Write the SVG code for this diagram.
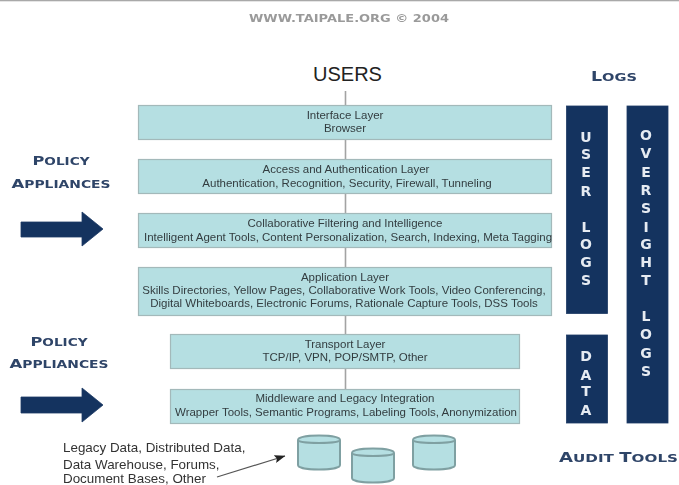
<svg xmlns="http://www.w3.org/2000/svg" width="679" height="485" viewBox="0 0 679 485">
<style>
text{font-family:"Liberation Sans",Arial,sans-serif;text-anchor:middle}
.b{fill:#b5dfe2;stroke:#a3b9ba;stroke-width:1.2}
.t{font-size:11.5px;fill:#333d40;filter:url(#s)}
.h{font-family:"DejaVu Sans",sans-serif;font-weight:bold;text-transform:uppercase;fill:#2f4468;filter:url(#s)}
.h tspan{font-size:.84em}
.c{fill:#14335f;stroke:#1d3a64;stroke-width:.8}
.v{font-family:"DejaVu Sans",sans-serif;font-size:14px;font-weight:bold;fill:#e6ebf2;filter:url(#s)}
.cy{fill:#b5dfe2;stroke:#7fa0a2;stroke-width:2}
.cyt{fill:none;stroke:#7fa0a2;stroke-width:2}
.l{font-size:13.400px;fill:#333;filter:url(#s)}
</style>
<defs>
<filter id="s" x="-5%" y="-20%" width="110%" height="140%"><feGaussianBlur stdDeviation="0.4"/></filter>
<marker id="ah" markerWidth="11" markerHeight="8" refX="10.500" refY="4" orient="auto" markerUnits="userSpaceOnUse"><path d="M0 0L11 4L0 8L2 4Z" fill="#222"/></marker>
<symbol id="cyl" overflow="visible"><path class="cy" d="M0 5C0 -1 42 -1 42 5V30C42 36 0 36 0 30Z"/><path class="cyt" d="M0 5C0 9 42 9 42 5"/></symbol>
</defs>
<rect width="679" height="485" fill="#fff"/>
<rect width="679" height="1.3" fill="#a9a9a9"/>
<g id="credit"><text x="349" y="22" font-size="11" font-weight="bold" fill="#9a9a9a" textLength="200" lengthAdjust="spacingAndGlyphs" style="font-family:'DejaVu Sans',sans-serif;text-transform:uppercase" filter="url(#s)">www.taipale.org © 2004</text></g>
<g id="connectors"><path d="M345.500 91V389" stroke="#a3a3a3" stroke-width="1.6" fill="none"/>
<path d="M217 477L285 456" stroke="#555" stroke-width="1.2" fill="none" marker-end="url(#ah)"/></g>
<g id="users"><text x="347.500" y="81" font-size="20" fill="#222">USERS</text></g>
<g id="logs-title"><text class="h" x="614" y="81" font-size="13.500" textLength="46" lengthAdjust="spacingAndGlyphs">L<tspan>ogs</tspan></text></g>
<g id="interface"><rect class="b" x="138.500" y="105.500" width="413" height="34"/><text class="t" x="345" y="119">Interface Layer</text><text class="t" x="345" y="132">Browser</text></g>
<g id="access"><rect class="b" x="138.500" y="159.500" width="413" height="34"/><text class="t" x="346" y="173">Access and Authentication Layer</text><text class="t" x="347" y="187">Authentication, Recognition, Security, Firewall, Tunneling</text></g>
<g id="collab"><rect class="b" x="138.500" y="213.500" width="413" height="34"/><text class="t" x="345" y="227">Collaborative Filtering and Intelligence</text><text class="t" x="348" y="241">Intelligent Agent Tools, Content Personalization, Search, Indexing, Meta Tagging</text></g>
<g id="application"><rect class="b" x="138.500" y="267.500" width="413" height="48"/><text class="t" x="345" y="281">Application Layer</text><text class="t" x="344" y="294">Skills Directories, Yellow Pages, Collaborative Work Tools, Video Conferencing,</text><text class="t" x="344" y="307">Digital Whiteboards, Electronic Forums, Rationale Capture Tools, DSS Tools</text></g>
<g id="transport"><rect class="b" x="170.500" y="334.500" width="349" height="34"/><text class="t" x="345" y="348">Transport Layer</text><text class="t" x="345" y="361">TCP/IP, VPN, POP/SMTP, Other</text></g>
<g id="middleware"><rect class="b" x="170.500" y="389.500" width="349" height="34"/><text class="t" x="345" y="402">Middleware and Legacy Integration</text><text class="t" x="346" y="416">Wrapper Tools, Semantic Programs, Labeling Tools, Anonymization</text></g>
<g id="policy1"><text class="h" x="61" y="165" font-size="13" textLength="57" lengthAdjust="spacingAndGlyphs">P<tspan>olicy</tspan></text><text class="h" x="61" y="188" font-size="13" textLength="99" lengthAdjust="spacingAndGlyphs">A<tspan>ppliances</tspan></text></g>
<path id="arrow1" class="c" d="M21 222H82V212L103 229L82 246V237H21Z"/>
<g id="policy2"><text class="h" x="59" y="346" font-size="13" textLength="57" lengthAdjust="spacingAndGlyphs">P<tspan>olicy</tspan></text><text class="h" x="59" y="368" font-size="13" textLength="99" lengthAdjust="spacingAndGlyphs">A<tspan>ppliances</tspan></text></g>
<path id="arrow2" class="c" d="M21 397H82V388L103 405L82 422V413H21Z"/>
<g id="user-logs"><rect class="c" x="566.500" y="106" width="41" height="207.500"/><text class="v" x="586" y="142">U</text><text class="v" x="586" y="159">S</text><text class="v" x="586" y="177">E</text><text class="v" x="586" y="196">R</text><text class="v" x="586" y="232">L</text><text class="v" x="586" y="249">O</text><text class="v" x="586" y="267">G</text><text class="v" x="586" y="285">S</text></g>
<g id="data"><rect class="c" x="566.500" y="335" width="41" height="88"/><text class="v" x="586" y="361">D</text><text class="v" x="586" y="380">A</text><text class="v" x="586" y="396">T</text><text class="v" x="586" y="415">A</text></g>
<g id="oversight"><rect class="c" x="627" y="106" width="41" height="317"/><text class="v" x="646" y="140">O</text><text class="v" x="646" y="158">V</text><text class="v" x="646" y="177">E</text><text class="v" x="646" y="195">R</text><text class="v" x="646" y="213">S</text><text class="v" x="646" y="232">I</text><text class="v" x="646" y="249">G</text><text class="v" x="646" y="267">H</text><text class="v" x="646" y="285">T</text><text class="v" x="646" y="321">L</text><text class="v" x="646" y="339">O</text><text class="v" x="646" y="358">G</text><text class="v" x="646" y="376">S</text></g>
<g id="audit"><text class="h" x="618.500" y="462" font-size="13.500" textLength="119" lengthAdjust="spacingAndGlyphs">A<tspan>udit </tspan>T<tspan>ools</tspan></text></g>
<g id="legacy"><text class="l" x="63" y="452" style="text-anchor:start">Legacy Data, Distributed Data,</text><text class="l" x="63" y="469" style="text-anchor:start">Data Warehouse, Forums,</text><text class="l" x="63" y="483" style="text-anchor:start">Document Bases, Other</text></g>
<use id="db1" href="#cyl" x="298" y="435"/>
<use id="db2" href="#cyl" x="352" y="448"/>
<use id="db3" href="#cyl" x="413" y="435"/>
</svg>
